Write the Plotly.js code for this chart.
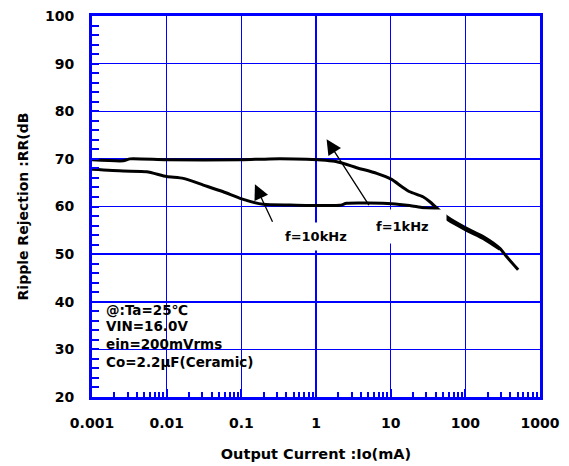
<!DOCTYPE html>
<html>
<head>
<meta charset="utf-8">
<script src="https://cdn.plot.ly/plotly-3.0.1.min.js"></script>
<style>
  html, body { margin: 0; padding: 0; background: #ffffff; }
  #chart { width: 569px; height: 466px; }
</style>
</head>
<body>
<div id="chart"></div>
<script>
// Ripple rejection vs. output current (mA), two ripple frequencies
const current1k = [0.001, 0.00262, 0.00323, 0.01, 0.1, 0.24, 0.75, 1.9, 3.5, 6.5, 10.3, 14, 18, 27, 33.5, 41, 56, 104, 173, 290, 356, 510];
const rr1k      = [69.8, 69.6, 70.0, 69.8, 69.8, 70.0, 69.9, 69.4, 68.15, 66.97, 65.7, 64.2, 63.1, 62.05, 61.0, 59.75, 57.9, 55.4, 53.7, 51.2, 49.5, 46.7];

const current10k = [0.001, 0.00262, 0.0054, 0.01, 0.0167, 0.031, 0.0573, 0.101, 0.196, 0.448, 2.09, 2.57, 10.3, 18, 27, 41, 56, 104, 173, 290];
const rr10k      = [67.8, 67.45, 67.3, 66.3, 65.9, 64.5, 63.1, 61.6, 60.45, 60.3, 60.25, 60.67, 60.6, 60.2, 59.75, 59.5, 57.4, 55.0, 53.3, 51.0];

const xTickVals  = [0.001, 0.01, 0.1, 1, 10, 100, 1000];
const xTickText  = ['0.001', '0.01', '0.1', '1', '10', '100', '1000'];
const yTickVals  = [20, 30, 40, 50, 60, 70, 80, 90, 100];

const conditions = ['@:Ta=25\u2103', 'VIN=16.0V', 'ein=200mVrms', 'Co=2.2\u03bcF(Ceramic)'];

const BLUE = 'rgb(0,0,255)';
const FONT = 'DejaVu Sans, Arial, sans-serif';

// minor log ticks at 2..9 of every decade
const xMinor = [];
for (let e = -3; e < 3; e++) {
  for (let m = 2; m <= 9; m++) xMinor.push(m * Math.pow(10, e));
}

const lineStyle = { color: '#000000', width: 3, shape: 'spline', smoothing: 0.6 };

const traces = [
  { x: current1k,  y: rr1k,  mode: 'lines', line: lineStyle, name: 'f=1kHz',  showlegend: false, hoverinfo: 'skip' },
  { x: current10k, y: rr10k, mode: 'lines', line: lineStyle, name: 'f=10kHz', showlegend: false, hoverinfo: 'skip' }
];

const arrowStyle = {
  text: '', showarrow: true, arrowhead: 2, arrowsize: 2.3, arrowwidth: 1.3,
  arrowcolor: '#000000', xref: 'x', yref: 'y', axref: 'x', ayref: 'y', standoff: 0
};

const annotations = [
  // arrow pointing at the 1 kHz curve
  Object.assign({}, arrowStyle, { x: 0.142, y: 74.1, ax: 0.722, ay: 59.96 }),
  // arrow pointing at the 10 kHz curve
  Object.assign({}, arrowStyle, { x: -0.818, y: 64.66, ax: -0.573, ay: 56.47 }),
  {
    text: '<b>f=1kHz</b>', showarrow: false, xref: 'x', yref: 'y',
    x: 1.217, y: 55.9, width: 62, height: 17, borderpad: 8, align: 'left',
    bgcolor: '#ffffff', font: { family: FONT, size: 13, color: '#000000' }
  },
  {
    text: '<b>f=10kHz</b>', showarrow: false, xref: 'x', yref: 'y',
    x: 0.0, y: 53.8, borderpad: 6,
    bgcolor: '#ffffff', font: { family: FONT, size: 13, color: '#000000' }
  }
];

const condY = [0.2283, 0.1858, 0.1391, 0.0927];
conditions.forEach((t, i) => {
  annotations.push({
    text: '<b>' + t + '</b>', showarrow: false, xref: 'paper', yref: 'paper',
    x: 0.0268, y: condY[i], xanchor: 'left', yanchor: 'middle',
    font: { family: FONT, size: 13.5, color: '#000000' }
  });
});

const layout = {
  width: 569, height: 466,
  margin: { l: 92, r: 29, t: 16, b: 69 },
  paper_bgcolor: '#ffffff', plot_bgcolor: '#ffffff',
  showlegend: false,
  xaxis: {
    type: 'log', range: [-3, 3],
    tickmode: 'array', tickvals: xTickVals, ticktext: xTickText,
    ticks: 'inside', ticklen: 8, tickwidth: 2, tickcolor: BLUE,
    showgrid: true, gridcolor: BLUE, gridwidth: 1.5,
    showline: true, linecolor: BLUE, linewidth: 3, mirror: true,
    zeroline: false,
    minor: { tickmode: 'array', tickvals: xMinor, ticks: 'inside', ticklen: 5, tickwidth: 2, tickcolor: BLUE, showgrid: false },
    tickfont: { family: FONT, size: 14, color: '#000000', weight: 'bold' },
    ticklabelstandoff: 11,
    title: { text: '<b>Output Current :Io(mA)</b>', font: { family: FONT, size: 14.5, color: '#000000' }, standoff: 20 }
  },
  yaxis: {
    range: [20, 100],
    tickmode: 'array', tickvals: yTickVals,
    ticks: 'inside', ticklen: 7, tickwidth: 2, tickcolor: BLUE,
    showgrid: true, gridcolor: BLUE, gridwidth: 1.5,
    showline: true, linecolor: BLUE, linewidth: 3, mirror: true,
    zeroline: false,
    minor: { dtick: 2, ticks: 'inside', ticklen: 7, tickwidth: 2, tickcolor: BLUE, showgrid: false },
    tickfont: { family: FONT, size: 14, color: '#000000', weight: 'bold' },
    ticklabelstandoff: 12,
    title: { text: '<b>Ripple Rejection :RR(dB</b>', font: { family: FONT, size: 14, color: '#000000' }, standoff: 14 }
  },
  annotations: annotations
};

Plotly.newPlot('chart', traces, layout, { staticPlot: true, displayModeBar: false });
</script>
</body>
</html>
